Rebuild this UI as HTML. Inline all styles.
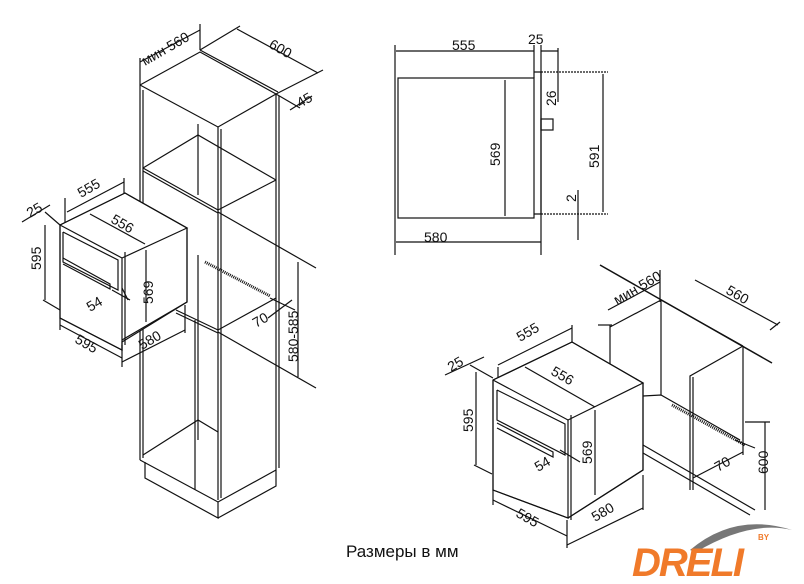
<!DOCTYPE html>
<html><head><meta charset="utf-8"><style>
html,body{margin:0;padding:0;background:#fff;}
svg{display:block;}
text{font-family:"Liberation Sans","DejaVu Sans",sans-serif;font-size:14px;fill:#111;}
</style></head><body>
<svg width="804" height="584" viewBox="0 0 804 584" xmlns="http://www.w3.org/2000/svg">
<g stroke="#111" stroke-width="1.2" fill="none">
<!-- Tall cabinet -->
<polyline points="140,85 200,52 276,94 218,127 140,85"/>
<polyline points="200,50 278,92"/>
<line x1="140" y1="85" x2="140" y2="460"/>
<line x1="143" y1="90" x2="143" y2="458"/>
<line x1="218" y1="127" x2="218" y2="500"/>
<line x1="221" y1="129" x2="221" y2="498"/>
<line x1="276" y1="94" x2="276" y2="470"/>
<line x1="279" y1="96" x2="279" y2="468"/>
<polyline points="140,460 218,502 276,470"/>
<polyline points="145,462 145,478 218,518 218,502"/>
<polyline points="218,518 276,486 276,470"/>
<line x1="198" y1="124" x2="198" y2="195"/>
<polyline points="143,168 198,135 276,180"/>
<polyline points="143,168 218,210 276,180"/>
<polyline points="143,171 218,213"/>
<polyline points="176,310 218,330 276,298"/>
<polyline points="176,313 218,333"/>
<polyline points="143,455 198,420 218,432"/>
<line x1="198" y1="255" x2="198" y2="440"/>
<line x1="195" y1="320" x2="195" y2="490"/>
<line x1="205" y1="262" x2="270" y2="296" stroke-width="3" stroke-dasharray="1,1"/>
<line x1="140" y1="85" x2="140" y2="58"/><line x1="200" y1="50" x2="200" y2="24"/>
<line x1="140" y1="62" x2="200" y2="30"/>
<line x1="200" y1="50" x2="240" y2="26"/><line x1="276" y1="94" x2="323" y2="70"/>
<line x1="237" y1="29" x2="318" y2="73"/>
<line x1="276" y1="94" x2="300" y2="108"/><line x1="290" y1="110" x2="312" y2="96"/>
<line x1="218" y1="212" x2="316" y2="268"/>
<line x1="218" y1="332" x2="316" y2="388"/>
<line x1="298" y1="262" x2="298" y2="377"/>
<line x1="270" y1="298" x2="295" y2="310"/><line x1="268" y1="318" x2="292" y2="300"/>
<!-- small oven -->
<polygon points="60,225 125,193 187,228 187,302 122,342 122,350 60,318" fill="#fff"/>
<polyline points="60,225 125,193 187,228 122,258 60,225"/>
<polyline points="60,225 60,318 122,350 122,258"/>
<polyline points="187,228 187,302 122,340"/>
<polyline points="63,232 118,260 118,290 63,262 63,232"/>
<polyline points="63,258 110,284 110,289 63,264"/>
<line x1="125" y1="252" x2="125" y2="345"/>
<line x1="65" y1="223" x2="65" y2="198"/><line x1="67" y1="212" x2="124" y2="182"/><line x1="124" y1="193" x2="124" y2="178"/>
<line x1="90" y1="214" x2="145" y2="244"/>
<line x1="22" y1="222" x2="50" y2="205"/><line x1="45" y1="212" x2="60" y2="225"/>
<line x1="45" y1="225" x2="45" y2="300"/><line x1="43" y1="300" x2="60" y2="310"/>
<line x1="60" y1="318" x2="60" y2="330"/><line x1="60" y1="325" x2="122" y2="358"/><line x1="122" y1="345" x2="122" y2="367"/>
<line x1="122" y1="362" x2="185" y2="330"/><line x1="185" y1="305" x2="185" y2="333"/>
<line x1="146" y1="250" x2="146" y2="322"/>
<line x1="112" y1="290" x2="130" y2="300"/><line x1="122" y1="288" x2="128" y2="300"/>
<!-- side view -->
<rect x="398" y="78" width="136" height="140"/>
<polyline points="534,72 541,72 541,214 534,214"/>
<rect x="541" y="119" width="12" height="11"/>
<line x1="395" y1="45" x2="395" y2="255"/><line x1="541" y1="45" x2="541" y2="255"/><line x1="534" y1="45" x2="534" y2="78"/>
<line x1="396" y1="51" x2="534" y2="51"/><line x1="541" y1="51" x2="558" y2="51"/>
<line x1="396" y1="242" x2="541" y2="242"/>
<line x1="505" y1="80" x2="505" y2="216"/>
<line x1="541" y1="72" x2="608" y2="72" stroke-dasharray="2,1"/><line x1="541" y1="214" x2="608" y2="214" stroke-dasharray="2,1"/>
<line x1="603" y1="74" x2="603" y2="212"/>
<line x1="558" y1="48" x2="558" y2="102"/>
<line x1="578" y1="190" x2="578" y2="240"/>
<!-- right cabinet -->
<line x1="610" y1="325" x2="610" y2="370"/>
<polyline points="610,327 661,300 743,346"/>
<line x1="600" y1="265" x2="772" y2="363" stroke-width="1.5"/>
<line x1="661" y1="300" x2="661" y2="395"/>
<polyline points="743,346 690,376 690,490"/>
<line x1="743" y1="346" x2="743" y2="455"/>
<line x1="693" y1="377" x2="693" y2="490"/>
<polyline points="643,396 661,395 740,440"/>
<polyline points="643,453 750,515"/>
<polyline points="643,445 755,510"/>
<line x1="672" y1="405" x2="745" y2="445" stroke-width="3" stroke-dasharray="1,1"/>
<polyline points="693,478 743,452"/>
<line x1="608" y1="310" x2="660" y2="282"/><line x1="598" y1="325" x2="612" y2="325"/><line x1="660" y1="270" x2="660" y2="302"/>
<line x1="695" y1="280" x2="778" y2="325"/><line x1="770" y1="330" x2="780" y2="322"/>
<line x1="765" y1="422" x2="765" y2="510"/><line x1="745" y1="422" x2="770" y2="422"/>
<line x1="735" y1="440" x2="755" y2="448"/>
<!-- right oven -->
<polygon points="493,380 572,342 643,383 643,470 568,518 493,490" fill="#fff"/>
<polyline points="493,380 572,342 643,383 568,420 493,380"/>
<polyline points="493,380 493,490 568,518 568,420"/>
<polyline points="643,383 643,470 568,518"/>
<polyline points="497,390 565,424 565,455 497,420 497,390"/>
<polyline points="497,423 553,452 553,457 497,428"/>
<line x1="571" y1="415" x2="571" y2="520"/>
<line x1="498" y1="367" x2="498" y2="378"/><line x1="498" y1="365" x2="572" y2="328"/><line x1="572" y1="325" x2="572" y2="342"/>
<line x1="525" y1="367" x2="595" y2="407"/>
<line x1="445" y1="375" x2="484" y2="357"/><line x1="470" y1="365" x2="493" y2="378"/>
<line x1="476" y1="372" x2="476" y2="465"/><line x1="474" y1="465" x2="492" y2="474"/>
<line x1="493" y1="490" x2="493" y2="505"/><line x1="493" y1="500" x2="567" y2="536"/><line x1="567" y1="520" x2="567" y2="548"/>
<line x1="567" y1="545" x2="643" y2="508"/><line x1="643" y1="475" x2="643" y2="510"/>
<line x1="595" y1="410" x2="595" y2="495"/>
<line x1="560" y1="450" x2="580" y2="462"/>
</g>
<g>
<text transform="translate(145,66) rotate(-30)">мин 560</text>
<text transform="translate(268,47) rotate(30)">600</text>
<text transform="translate(300,108) rotate(-30)">45</text>
<text transform="translate(81,198) rotate(-30)">555</text>
<text transform="translate(110,222) rotate(30)">556</text>
<text transform="translate(30,218) rotate(-30)">25</text>
<text transform="translate(41,270) rotate(-90)">595</text>
<text transform="translate(153,304) rotate(-90)">569</text>
<text transform="translate(90,312) rotate(-30)">54</text>
<text transform="translate(74,342) rotate(30)">595</text>
<text transform="translate(142,350) rotate(-30)">580</text>
<text transform="translate(256,328) rotate(-30)">70</text>
<text transform="translate(298,362) rotate(-90)">580-585</text>
<text x="452" y="50">555</text>
<text x="528" y="44">25</text>
<text x="424" y="242">580</text>
<text transform="translate(500,166) rotate(-90)">569</text>
<text transform="translate(556,106) rotate(-90)">26</text>
<text transform="translate(599,168) rotate(-90)">591</text>
<text transform="translate(576,202) rotate(-90)">2</text>
<text transform="translate(520,342) rotate(-30)">555</text>
<text transform="translate(550,374) rotate(30)">556</text>
<text transform="translate(451,372) rotate(-30)">25</text>
<text transform="translate(473,432) rotate(-90)">595</text>
<text transform="translate(592,464) rotate(-90)">569</text>
<text transform="translate(538,472) rotate(-30)">54</text>
<text transform="translate(515,516) rotate(30)">595</text>
<text transform="translate(595,522) rotate(-30)">580</text>
<text transform="translate(617,305) rotate(-30)">мин 560</text>
<text transform="translate(725,293) rotate(30)">560</text>
<text transform="translate(718,472) rotate(-30)">70</text>
<text transform="translate(768,474) rotate(-90)">600</text>
<text x="346" y="557" style="font-size:17px">Размеры в мм</text>
<path d="M690 550 Q735 512 792 530 Q750 520 696 552Z" fill="#777"/>
<text x="632" y="576" style="font-size:40px;font-weight:bold;font-style:italic;fill:#f07a2a;letter-spacing:-2px">DRELI</text>
<text x="758" y="540" style="font-size:8px;fill:#f07a2a;font-weight:bold">BY</text>
</g>
</svg>
</body></html>
